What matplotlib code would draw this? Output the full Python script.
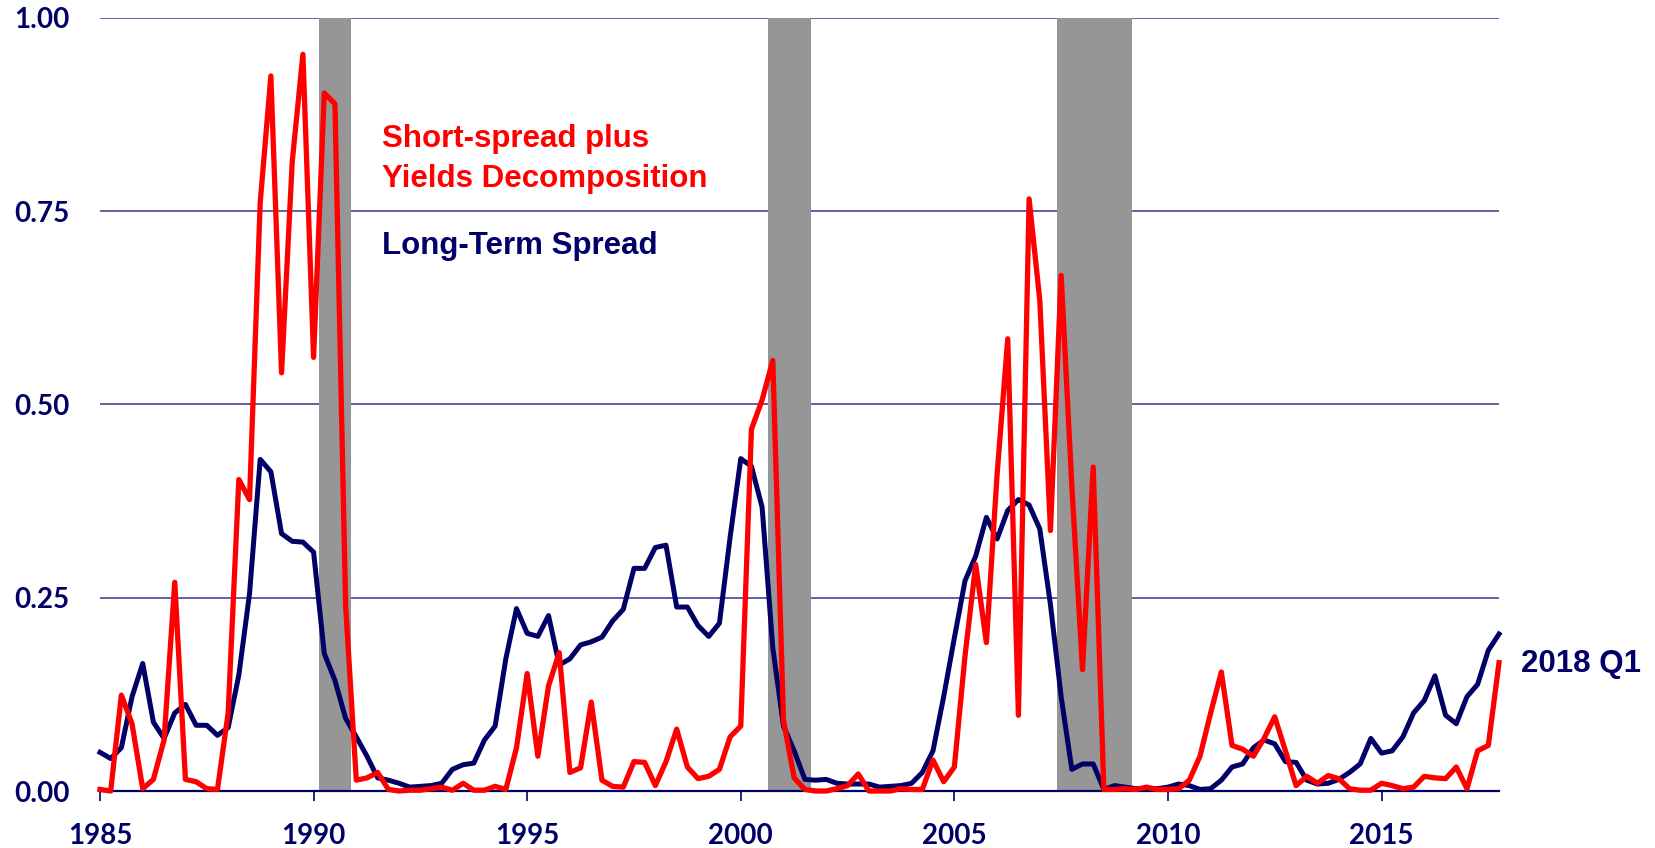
import numpy as np
import pandas as pd
import matplotlib
matplotlib.use('Agg')
import matplotlib.pyplot as plt

# 季度数据 1985Q1 - 2017Q4
quarters = pd.period_range('1985Q1', '2017Q4', freq='Q')
x = quarters.year + (quarters.quarter - 1) / 4.0

long_spread = [
    0.050, 0.042, 0.056, 0.122, 0.165, 0.089, 0.068, 0.101, 0.112, 0.085,
    0.085, 0.072, 0.082, 0.150, 0.255, 0.429, 0.413, 0.333, 0.323, 0.322,
    0.309, 0.178, 0.143, 0.094, 0.070, 0.045, 0.017, 0.014, 0.010, 0.005,
    0.006, 0.007, 0.010, 0.028, 0.034, 0.036, 0.066, 0.084, 0.171, 0.236,
    0.204, 0.200, 0.227, 0.163, 0.171, 0.189, 0.193, 0.199, 0.220, 0.235,
    0.288, 0.288, 0.315, 0.318, 0.238, 0.238, 0.214, 0.200, 0.217, 0.328,
    0.430, 0.420, 0.367, 0.185, 0.084, 0.052, 0.015, 0.014, 0.015, 0.010,
    0.009, 0.009, 0.009, 0.005, 0.006, 0.007, 0.010, 0.024, 0.052, 0.122,
    0.198, 0.272, 0.304, 0.354, 0.326, 0.363, 0.377, 0.370, 0.339, 0.241,
    0.122, 0.028, 0.035, 0.035, 0.002, 0.007, 0.005, 0.003, 0.003, 0.003,
    0.005, 0.009, 0.007, 0.002, 0.003, 0.014, 0.031, 0.035, 0.056, 0.066,
    0.061, 0.038, 0.037, 0.014, 0.009, 0.010, 0.015, 0.024, 0.035, 0.068,
    0.049, 0.052, 0.070, 0.101, 0.117, 0.149, 0.098, 0.087, 0.122, 0.138,
    0.182, 0.203,
]

short_spread = [
    0.002, 0.000, 0.124, 0.087, 0.003, 0.015, 0.066, 0.270, 0.015, 0.012,
    0.003, 0.002, 0.101, 0.403, 0.377, 0.761, 0.925, 0.541, 0.814, 0.953,
    0.561, 0.903, 0.889, 0.240, 0.014, 0.017, 0.024, 0.002, 0.000, 0.001,
    0.001, 0.003, 0.005, 0.001, 0.010, 0.001, 0.001, 0.006, 0.002, 0.056,
    0.152, 0.045, 0.136, 0.179, 0.024, 0.030, 0.115, 0.014, 0.006, 0.005,
    0.038, 0.037, 0.007, 0.038, 0.080, 0.031, 0.016, 0.019, 0.028, 0.070,
    0.084, 0.468, 0.506, 0.557, 0.091, 0.017, 0.002, 0.000, 0.000, 0.003,
    0.007, 0.022, 0.000, 0.000, 0.000, 0.003, 0.002, 0.002, 0.040, 0.012,
    0.031, 0.175, 0.293, 0.192, 0.409, 0.585, 0.098, 0.766, 0.635, 0.337,
    0.667, 0.395, 0.157, 0.419, 0.002, 0.002, 0.003, 0.002, 0.005, 0.002,
    0.002, 0.003, 0.014, 0.045, 0.101, 0.154, 0.059, 0.054, 0.045, 0.068,
    0.096, 0.052, 0.007, 0.019, 0.010, 0.020, 0.016, 0.003, 0.001, 0.001,
    0.010, 0.007, 0.003, 0.005, 0.019, 0.017, 0.016, 0.031, 0.003, 0.052,
    0.059, 0.166,
]

# 衰退期（灰色阴影）
recession_start = [1990.13, 2000.63, 2007.40]
recession_end = [1990.88, 2001.64, 2009.15]

yticks = [0.0, 0.25, 0.5, 0.75, 1.0]
xticks = [1985, 1990, 1995, 2000, 2005, 2010, 2015]

navy = '#000066'
red = '#ff0000'
W, H = 1656, 848

fig = plt.figure(figsize=(W / 100, H / 100), dpi=100)
ax = fig.add_axes([100 / W, 57 / H, 1399 / W, 773 / H])

for s, e in zip(recession_start, recession_end):
    ax.axvspan(s, e, color='#969696', lw=0, zorder=1)

ax.plot(x, long_spread, color=navy, lw=3.6, zorder=3, clip_on=False)
ax.plot(x, short_spread, color=red, lw=3.8, zorder=4, clip_on=False)

ax.set_xlim(1985, x[-1])
ax.set_ylim(0, 1)
ax.set_yticks(yticks)
ax.set_yticklabels(['%.2f' % v for v in yticks])
ax.set_xticks(xticks)
ax.set_xticklabels([str(v) for v in xticks])

ax.set_axisbelow(True)
ax.yaxis.grid(True, color='#35358f', lw=1.1)
for sp in ['top', 'right', 'left']:
    ax.spines[sp].set_visible(False)
ax.spines['bottom'].set_color(navy)
ax.spines['bottom'].set_linewidth(1.6)
ax.spines['bottom'].set_zorder(2.5)

ax.tick_params(axis='y', length=0, pad=22, labelcolor=navy)
ax.tick_params(axis='x', length=7, width=1.2, color=navy, pad=16, labelcolor=navy)
for lab in ax.get_xticklabels() + ax.get_yticklabels():
    lab.set_fontfamily('Lato')
    lab.set_fontweight('bold')
    lab.set_fontsize(20)

tfont = dict(family='Liberation Sans', weight='bold', size=22.5, va='baseline', ha='left')
fig.text(382 / W, 1 - 147 / H, 'Short-spread plus', color=red, **tfont)
fig.text(382 / W, 1 - 187 / H, 'Yields Decomposition', color=red, **tfont)
fig.text(382 / W, 1 - 254 / H, 'Long-Term Spread', color=navy, **tfont)
fig.text(1521 / W, 1 - 672 / H, '2018 Q1', color=navy, **tfont)

fig.savefig('out.png', dpi=100)
